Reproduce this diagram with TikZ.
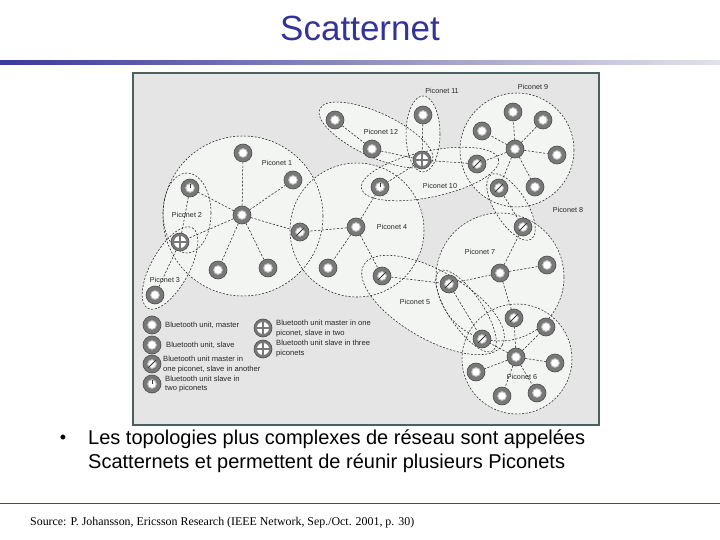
\documentclass[tikz,border=0pt]{standalone}
\usepackage{fontspec}
\setmainfont{Liberation Sans}
\newfontfamily\srcfont{Liberation Serif}
\definecolor{titleblue}{RGB}{51,51,153}
\definecolor{barblue}{RGB}{58,58,152}
\definecolor{barlight}{RGB}{226,226,236}
\definecolor{lineblue}{RGB}{70,70,120}
\definecolor{framec}{RGB}{77,96,96}
\definecolor{bggray}{RGB}{229,229,229}
\definecolor{picfill}{RGB}{243,245,243}
\definecolor{ringc}{RGB}{120,120,120}
\definecolor{ringdk}{RGB}{75,75,75}
\definecolor{ringlt}{RGB}{185,185,185}
\definecolor{labc}{RGB}{40,40,40}
\tikzset{
  btbase/.style={circle, draw=ringdk, line width=0.6pt, fill=ringc, minimum size=18pt, inner sep=0pt},
  btplain/.style={btbase, path picture={\fill[white, draw=ringlt, line width=0.9pt] (path picture bounding box.center) circle (4.4pt);}},
  btslash/.style={btbase, path picture={\fill[white, draw=ringlt, line width=0.9pt] (path picture bounding box.center) circle (4.4pt);
     \draw[black!80, line width=0.8pt] ([shift={(-3.8pt,-3.8pt)}]path picture bounding box.center) -- ([shift={(3.8pt,3.8pt)}]path picture bounding box.center);}},
  bttwo/.style={btbase, path picture={\fill[white, draw=ringlt, line width=0.9pt] (path picture bounding box.center) circle (4.4pt);
     \draw[black!80, line width=0.8pt] (path picture bounding box.center) -- ([yshift=4.4pt]path picture bounding box.center);}},
  btcross/.style={btbase, path picture={\fill[white] (path picture bounding box.center) circle (6pt);
     \draw[ringc, line width=2.2pt] ([xshift=-7pt]path picture bounding box.center) -- ([xshift=7pt]path picture bounding box.center)
        ([yshift=-7pt]path picture bounding box.center) -- ([yshift=7pt]path picture bounding box.center);}},
  conn/.style={draw=black!85, line width=0.55pt, dash pattern=on 2.2pt off 1.6pt},
  pnet/.style={draw=black!85, line width=0.55pt, dash pattern=on 2pt off 1.6pt},
  plabel/.style={font=\fontsize{7.2}{8.5}\selectfont, text=labc, inner sep=0pt},
  legtext/.style={font=\fontsize{7.6}{9.2}\selectfont, text=labc, inner sep=0pt, anchor=west, align=left},
}
\begin{document}
\begin{tikzpicture}[x=1pt,y=-1pt]
\useasboundingbox (0,0) rectangle (720,540);
\fill[white] (0,0) rectangle (720,540);
% title
\node[font=\fontsize{35}{40}\selectfont, text=titleblue, inner sep=0pt] (title) at (360,28) {Scatternet};
\shade[left color=barblue, right color=barlight] (0,60.5) rectangle (720,65);
% frame
\draw[draw=framec, line width=1.5pt, fill=bggray] (133,73) rectangle (599,425);
% piconet areas
\def\shapelist{243/216/80/80/0, 187/213/24/40/0, 170/268/46/19/61, 357/230/67/67/0, 423/134/17/38/0, 376/135/62/22/-25, 430/174/70/23/12, 517/150/57/57/0, 511/207/38/16/-58, 500/277/64/64/0, 433/305/80/34/-30, 466/311/48/17/-56, 517/359/55/55/0}
\foreach \cx/\cy/\rx/\ry/\ang in \shapelist
  \fill[picfill, shift={(\cx,\cy)}, rotate=\ang] (0,0) ellipse [x radius=\rx, y radius=\ry];
\foreach \cx/\cy/\rx/\ry/\ang in \shapelist
  \draw[pnet, shift={(\cx,\cy)}, rotate=\ang] (0,0) ellipse [x radius=\rx, y radius=\ry];
% piconet labels
\node[plabel] (l1) at (277,163) {Piconet 1};
\node[plabel] (l2) at (187,215) {Piconet 2};
\node[plabel] (l3) at (165,280) {Piconet 3};
\node[plabel] (l4) at (392,227) {Piconet 4};
\node[plabel] (l5) at (415,302) {Piconet 5};
\node[plabel] (l6) at (522,377) {Piconet 6};
\node[plabel] (l7) at (480,252) {Piconet 7};
\node[plabel] (l8) at (568,210) {Piconet 8};
\node[plabel] (l9) at (533,87) {Piconet 9};
\node[plabel] (l10) at (440,186) {Piconet 10};
\node[plabel] (l11) at (442,91) {Piconet 11};
\node[plabel] (l12) at (381,132) {Piconet 12};
% nodes
\node[btplain] (m1) at (242,215) {};
\node[btplain] (s1a) at (243,153) {};
\node[btplain] (s1b) at (293,180) {};
\node[bttwo] (d12) at (190,188) {};
\node[btcross] (x123) at (180,242) {};
\node[btplain] (s1c) at (218,270) {};
\node[btplain] (s1d) at (268,268) {};
\node[btslash] (x14) at (300,232) {};
\node[btplain] (s3) at (155,295) {};
\node[btplain] (s12a) at (335,120) {};
\node[btplain] (s12b) at (372,149) {};
\node[btplain] (s11) at (423,115) {};
\node[btcross] (x1) at (422,160) {};
\node[btplain] (m4) at (356,227) {};
\node[bttwo] (d410) at (380,187) {};
\node[btplain] (s4) at (328,268) {};
\node[btslash] (x45) at (382,276) {};
\node[btslash] (x109) at (477,164) {};
\node[btplain] (m9) at (515,149) {};
\node[btplain] (s9a) at (513,112) {};
\node[btplain] (s9b) at (543,120) {};
\node[btplain] (s9c) at (482,131) {};
\node[btplain] (s9d) at (557,155) {};
\node[btplain] (s9e) at (535,187) {};
\node[btslash] (x98) at (499,188) {};
\node[btslash] (x87) at (523,227) {};
\node[btplain] (m7) at (500,273) {};
\node[btplain] (s7) at (547,265) {};
\node[btslash] (x75) at (449,284) {};
\node[btslash] (x76) at (514,318) {};
\node[btslash] (x56) at (482,339) {};
\node[btplain] (m6) at (516,357) {};
\node[btplain] (s6a) at (546,327) {};
\node[btplain] (s6b) at (555,363) {};
\node[btplain] (s6c) at (537,393) {};
\node[btplain] (s6d) at (502,396) {};
\node[btplain] (s6e) at (476,372) {};
% connectors
\foreach \t in {s1a,s1b,d12,x14,x123,s1c,s1d} \draw[conn] (m1) -- (\t);
\draw[conn] (d12) -- (x123);
\draw[conn] (x123) -- (s3);
\draw[conn] (s12a) -- (s12b);
\draw[conn] (s12b) -- (x1);
\draw[conn] (s11) -- (x1);
\draw[conn] (x1) -- (d410);
\draw[conn] (x1) -- (x109);
\foreach \t in {d410,x14,s4,x45} \draw[conn] (m4) -- (\t);
\foreach \t in {s9a,s9b,s9c,s9d,s9e,x98,x109} \draw[conn] (m9) -- (\t);
\draw[conn] (x98) -- (x87);
\foreach \t in {x87,s7,x75,x76} \draw[conn] (m7) -- (\t);
\draw[conn] (x45) -- (x75);
\draw[conn] (x75) -- (x56);
\foreach \t in {x76,x56,s6a,s6b,s6c,s6d,s6e} \draw[conn] (m6) -- (\t);
% legend
\node[btplain] (k1) at (152,325) {};
\node[legtext] (t1) at (165,325) {Bluetooth unit, master};
\node[btplain] (k2) at (152,345) {};
\node[legtext] (t2) at (166,345) {Bluetooth unit, slave};
\node[btslash] (k3) at (152,364) {};
\node[legtext] (t3) at (163,364.5) {Bluetooth unit master in\\one piconet, slave in another};
\node[bttwo] (k4) at (152,384) {};
\node[legtext] (t4) at (165,384) {Bluetooth unit slave in\\two piconets};
\node[btcross] (k5) at (263,328) {};
\node[legtext] (t5) at (276,328.5) {Bluetooth unit master in one\\piconet, slave in two};
\node[btcross] (k6) at (263,349) {};
\node[legtext] (t6) at (276,348.5) {Bluetooth unit slave in three\\piconets};
% bullet text
\node[font=\fontsize{18}{20}\selectfont, anchor=base, inner sep=0pt] (bul) at (63,443) {\textbullet};
\node[font=\fontsize{20}{24}\selectfont, anchor=base west, inner sep=0pt] (b1) at (88,444) {Les topologies plus complexes de réseau sont appelées};
\node[font=\fontsize{20}{24}\selectfont, anchor=base west, inner sep=0pt] (b2) at (88,468) {Scatternets et permettent de réunir plusieurs Piconets};
% bottom line & source
\draw[lineblue, line width=1.1pt] (0,503.5) -- (720,503.5);
\node[font=\srcfont\fontsize{11.9}{13}\selectfont, anchor=base west, inner sep=0pt] (src) at (30,525) {Source: P. Johansson, Ericsson Research (IEEE Network, Sep./Oct. 2001, p. 30)};
\end{tikzpicture}
\end{document}
